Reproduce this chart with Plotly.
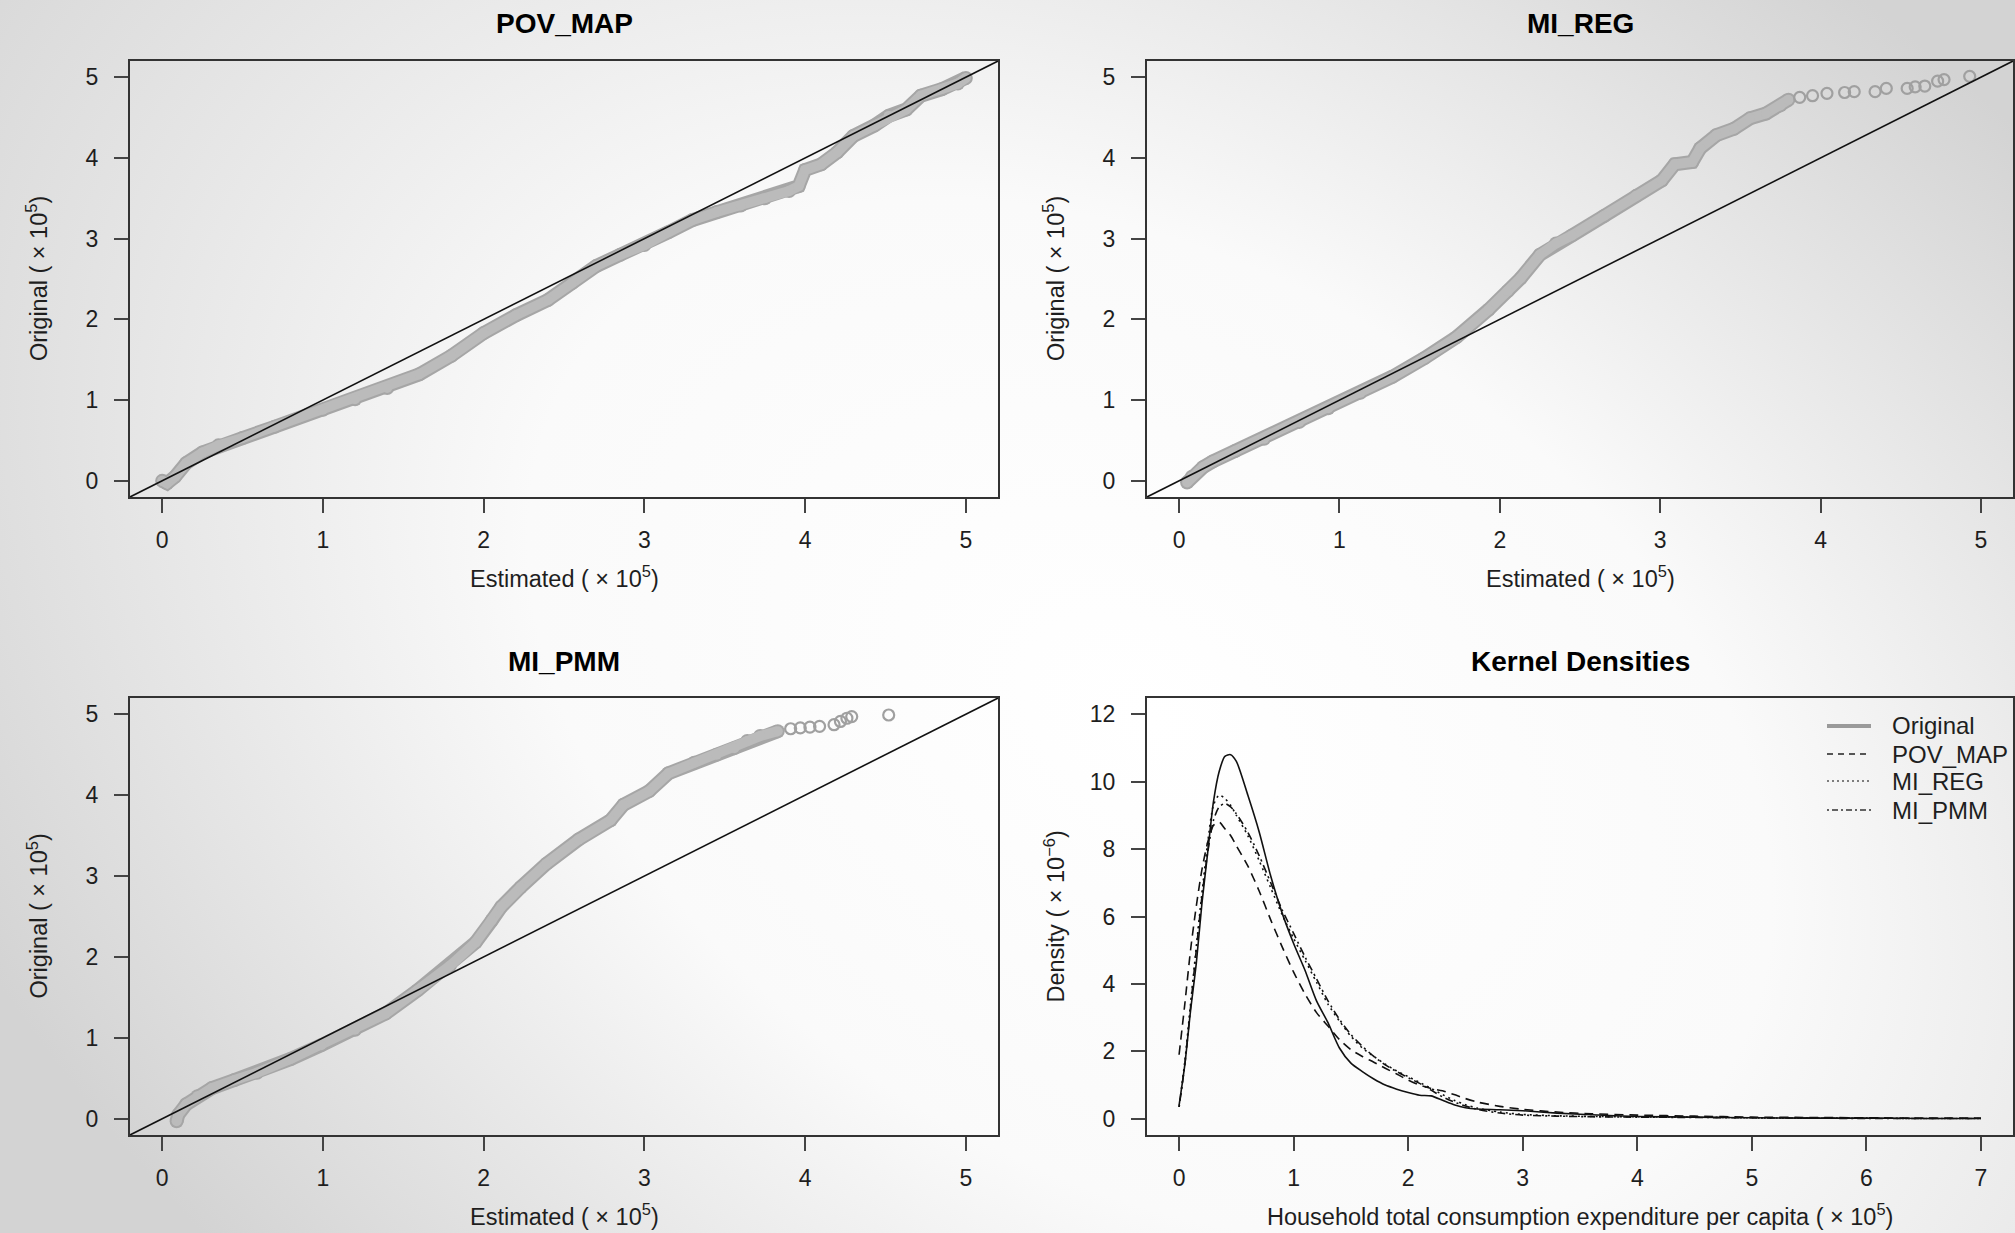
import base64
import plotly.graph_objects as go

W, H = 2015, 1233

# ---------------- data ----------------
qq_ticks = [0, 1, 2, 3, 4, 5]
qq_range = [-0.2, 5.2]

# POV_MAP QQ band (estimated vs original, x 1e5)
pov_band_x = [0.0, 0.03, 0.08, 0.15, 0.25, 0.35, 0.5, 0.7, 1.0, 1.2, 1.4, 1.6, 1.8, 2.0, 2.2, 2.4,
              2.55, 2.7, 2.85, 3.0, 3.15, 3.3, 3.45, 3.6, 3.75, 3.9, 3.96, 4.0, 4.1, 4.2, 4.3,
              4.43, 4.52, 4.63, 4.72, 4.85, 4.95, 5.0]
pov_band_y = [0.0, -0.03, 0.05, 0.22, 0.35, 0.44, 0.53, 0.67, 0.88, 1.01, 1.15, 1.32, 1.55, 1.83, 2.05, 2.24,
              2.45, 2.66, 2.8, 2.92, 3.08, 3.23, 3.33, 3.41, 3.5, 3.59, 3.65, 3.85, 3.92, 4.07, 4.27,
              4.4, 4.52, 4.6, 4.77, 4.85, 4.92, 4.99]

# MI_REG QQ band + sparse tail
reg_band_x = [0.05, 0.08, 0.15, 0.21, 0.35, 0.53, 0.75, 0.93, 1.13, 1.33, 1.53, 1.73, 1.93, 2.05, 2.13,
              2.25, 2.35, 2.45, 2.65, 2.85, 3.01, 3.09, 3.2, 3.25, 3.35, 3.46, 3.56, 3.66, 3.75, 3.8]
reg_band_y = [-0.02, 0.05, 0.17, 0.24, 0.37, 0.52, 0.73, 0.9, 1.09, 1.29, 1.52, 1.78, 2.12, 2.35, 2.51,
              2.8, 2.94, 3.04, 3.28, 3.53, 3.72, 3.92, 3.95, 4.12, 4.28, 4.36, 4.49, 4.55, 4.65, 4.72]
reg_tail_x = [3.87, 3.95, 4.04, 4.15, 4.21, 4.34, 4.41, 4.54, 4.59, 4.65, 4.73, 4.77, 4.93]
reg_tail_y = [4.75, 4.77, 4.8, 4.81, 4.82, 4.82, 4.86, 4.86, 4.88, 4.89, 4.95, 4.97, 5.01]

# MI_PMM QQ band + sparse tail
pmm_band_x = [0.09, 0.1, 0.15, 0.22, 0.31, 0.45, 0.59, 0.8, 0.99, 1.2, 1.39, 1.59, 1.79, 1.95, 2.05,
              2.11, 2.23, 2.39, 2.59, 2.79, 2.87, 3.03, 3.15, 3.31, 3.45, 3.56, 3.64, 3.72, 3.83]
pmm_band_y = [-0.03, 0.05, 0.18, 0.28, 0.38, 0.48, 0.57, 0.74, 0.91, 1.1, 1.3, 1.59, 1.89, 2.18, 2.45,
              2.62, 2.86, 3.15, 3.45, 3.69, 3.88, 4.05, 4.27, 4.4, 4.5, 4.58, 4.67, 4.73, 4.79]
pmm_tail_x = [3.91, 3.97, 4.03, 4.09, 4.18, 4.22, 4.26, 4.29, 4.52]
pmm_tail_y = [4.82, 4.83, 4.84, 4.85, 4.87, 4.91, 4.95, 4.97, 4.99]

# Kernel densities (x 1e5, density x 1e-6)
dens_x = [0.0, 0.05, 0.1, 0.15, 0.2, 0.25, 0.3, 0.35, 0.4, 0.45, 0.5, 0.6, 0.7, 0.8, 0.9, 1.0, 1.1, 1.2,
          1.3, 1.4, 1.5, 1.6, 1.7, 1.8, 1.9, 2.0, 2.1, 2.2, 2.3, 2.4, 2.5, 2.6, 2.8, 3.0, 3.3, 3.6,
          4.0, 4.5, 5.0, 5.5, 6.0, 6.5, 7.0]
dens_original = [0.4, 1.6, 3.2, 4.6, 6.4, 7.9, 9.4, 10.3, 10.75, 10.8, 10.6, 9.6, 8.5, 7.2, 6.1, 5.2, 4.4, 3.5,
                 2.85, 2.1, 1.65, 1.4, 1.18, 1.0, 0.88, 0.78, 0.7, 0.68, 0.55, 0.42, 0.33, 0.29, 0.27, 0.24,
                 0.17, 0.12, 0.07, 0.05, 0.03, 0.02, 0.02, 0.01, 0.01]
dens_pov_map = [1.9, 3.4, 5.0, 6.3, 7.4, 8.2, 8.7, 8.8, 8.6, 8.4, 8.1, 7.5, 6.75, 5.9, 5.1, 4.35, 3.7, 3.15,
                2.75, 2.35, 2.05, 1.85, 1.68, 1.5, 1.33, 1.15, 1.0, 0.9, 0.83, 0.72, 0.6, 0.5, 0.37, 0.28,
                0.2, 0.15, 0.11, 0.08, 0.05, 0.04, 0.03, 0.02, 0.02]
dens_mi_reg = [0.35, 1.7, 3.4, 5.1, 6.7, 8.2, 9.3, 9.6, 9.5, 9.3, 9.0, 8.4, 7.65, 6.85, 6.05, 5.35, 4.7, 4.05,
               3.4, 2.9, 2.45, 2.1, 1.85, 1.62, 1.42, 1.25, 1.08, 0.9, 0.72, 0.55, 0.42, 0.32, 0.2, 0.13,
               0.09, 0.07, 0.06, 0.05, 0.03, 0.02, 0.02, 0.01, 0.01]
dens_mi_pmm = [0.35, 1.6, 3.3, 5.0, 6.6, 7.9, 8.85, 9.25, 9.35, 9.25, 9.05, 8.5, 7.8, 7.0, 6.2, 5.5, 4.8, 4.15,
               3.5, 2.95, 2.5, 2.15, 1.85, 1.6, 1.4, 1.22, 1.05, 0.85, 0.65, 0.5, 0.38, 0.28, 0.17, 0.11,
               0.08, 0.06, 0.05, 0.04, 0.03, 0.02, 0.01, 0.01, 0.01]
dens_xticks = [0, 1, 2, 3, 4, 5, 6, 7]
dens_yticks = [0, 2, 4, 6, 8, 10, 12]
dens_xrange = [-0.28, 7.28]
dens_yrange = [-0.48, 12.48]

titles = ["POV_MAP", "MI_REG", "MI_PMM", "Kernel Densities"]
legend_names = ["Original", "POV_MAP", "MI_REG", "MI_PMM"]

# ---------------- styling ----------------
FONT = "Liberation Sans, Arial, sans-serif"
TXT = "#1e1e1e"
BAND_EDGE = "#a6a6a6"
BAND_FILL = "#bbbbbb"
PT = "#a0a0a0"

# panel boxes in pixels (left, right, top, bottom)
boxes = [(130, 998, 61, 497), (1147, 2013, 61, 497), (130, 998, 698, 1135), (1147, 2013, 698, 1135)]

fig = go.Figure()


def ax_names(i):
    s = "" if i == 0 else str(i + 1)
    return "x" + s, "y" + s


def add_qq(i, bx, by, tx=None, ty=None):
    xa, ya = ax_names(i)
    fig.add_trace(go.Scatter(x=bx, y=by, mode="lines+markers", xaxis=xa, yaxis=ya,
                             line=dict(color=BAND_EDGE, width=14),
                             marker=dict(color=BAND_EDGE, size=14), showlegend=False, hoverinfo="skip"))
    fig.add_trace(go.Scatter(x=bx, y=by, mode="lines+markers", xaxis=xa, yaxis=ya,
                             line=dict(color=BAND_FILL, width=10),
                             marker=dict(color=BAND_FILL, size=10), showlegend=False, hoverinfo="skip"))
    if tx is not None:
        fig.add_trace(go.Scatter(x=tx, y=ty, mode="markers", xaxis=xa, yaxis=ya,
                                 marker=dict(symbol="circle-open", color=PT, size=11,
                                             line=dict(width=2.2, color=PT)),
                                 showlegend=False, hoverinfo="skip"))
    # reference line y = x across the whole panel
    fig.add_trace(go.Scatter(x=qq_range, y=qq_range, mode="lines", xaxis=xa, yaxis=ya,
                             line=dict(color="#111", width=1.6), showlegend=False, hoverinfo="skip"))


add_qq(0, pov_band_x, pov_band_y)
add_qq(1, reg_band_x, reg_band_y, reg_tail_x, reg_tail_y)
add_qq(2, pmm_band_x, pmm_band_y, pmm_tail_x, pmm_tail_y)

dash_styles = ["solid", "9px,6px", "2px,4px", "2px,4px,8px,4px"]
dens_series = [dens_original, dens_pov_map, dens_mi_reg, dens_mi_pmm]
for name, ys, dsh in zip(legend_names, dens_series, dash_styles):
    fig.add_trace(go.Scatter(x=dens_x, y=ys, mode="lines", xaxis="x4", yaxis="y4", name=name,
                             line=dict(color="#111", width=1.6, dash=dsh, shape="spline", smoothing=0.7),
                             showlegend=False, hoverinfo="skip"))

axis_common = dict(showline=True, linecolor="#333", linewidth=2, mirror=True, ticks="outside",
                   ticklen=14, tickwidth=1.5, tickcolor="#444", showgrid=False, zeroline=False,
                   tickfont=dict(family=FONT, size=23, color=TXT), fixedrange=True)

layout_axes = {}
for i, (l, r, t, b) in enumerate(boxes):
    s = "" if i == 0 else str(i + 1)
    xd = [l / W, r / W]
    yd = [1 - b / H, 1 - t / H]
    if i < 3:
        xr, yr, xt, yt = qq_range, qq_range, qq_ticks, qq_ticks
    else:
        xr, yr, xt, yt = dens_xrange, dens_yrange, dens_xticks, dens_yticks
    layout_axes["xaxis" + s] = dict(axis_common, domain=xd, range=xr, tickvals=xt,
                                    anchor="y" + s, ticklabelstandoff=7)
    layout_axes["yaxis" + s] = dict(axis_common, domain=yd, range=yr, tickvals=yt,
                                    anchor="x" + s, ticklabelstandoff=11)

fig.update_layout(**layout_axes)

annotations = []
for i, (l, r, t, b) in enumerate(boxes):
    cx = (l + r) / 2 / W
    annotations.append(dict(text="<b>%s</b>" % titles[i], x=cx, y=1 - (t - 37) / H, xref="paper",
                            yref="paper", showarrow=False, xanchor="center", yanchor="middle",
                            font=dict(family=FONT, size=28, color="#000")))
    if i < 3:
        xl = "Estimated ( \u00d7 10<sup>5</sup>)"
        yl = "Original ( \u00d7 10<sup>5</sup>)"
    else:
        xl = "Household total consumption expenditure per capita ( \u00d7 10<sup>5</sup>)"
        yl = "Density ( \u00d7 10<sup>\u22126</sup>)"
    annotations.append(dict(text=xl, x=cx, y=1 - (b + 80) / H, xref="paper", yref="paper",
                            showarrow=False, xanchor="center", yanchor="middle",
                            font=dict(family=FONT, size=23.5, color=TXT)))
    annotations.append(dict(text=yl, x=(l - 93) / W, y=1 - (t + b) / 2 / H, xref="paper", yref="paper",
                            showarrow=False, xanchor="center", yanchor="middle", textangle=-90,
                            font=dict(family=FONT, size=23.5, color=TXT)))

# legend of the density panel (key lines + labels, top-right inside the panel)
leg_rows = [726, 754, 781, 810]
leg_line = [dict(color="#9a9a9a", width=4, dash="solid"),
            dict(color="#222", width=1.5, dash="6px,5px"),
            dict(color="#555", width=1.5, dash="2px,3px"),
            dict(color="#333", width=1.5, dash="2px,3px,6px,3px")]
shapes = []
for name, yy, st in zip(legend_names, leg_rows, leg_line):
    yp = 1 - yy / H
    shapes.append(dict(type="line", xref="paper", yref="paper", x0=1827 / W, x1=1871 / W,
                       y0=yp, y1=yp, line=st))
    annotations.append(dict(text=name, x=1890 / W, y=yp, xref="paper", yref="paper", showarrow=False,
                            xanchor="left", yanchor="middle", font=dict(family=FONT, size=24, color=TXT)))

# slide-like grey radial background
svg = (
    '<svg xmlns="http://www.w3.org/2000/svg" width="%d" height="%d" viewBox="0 0 %d %d" '
    'preserveAspectRatio="none"><defs><radialGradient id="g" gradientUnits="userSpaceOnUse" '
    'cx="0" cy="0" r="1" gradientTransform="translate(1150,720) rotate(31.5) scale(1500,1000)">'
    '<stop offset="0" stop-color="#ffffff"/><stop offset="0.45" stop-color="#fafafa"/>'
    '<stop offset="1" stop-color="#d3d3d3"/></radialGradient></defs>'
    '<rect width="%d" height="%d" fill="url(#g)"/></svg>' % (W, H, W, H, W, H)
)
src = "data:image/svg+xml;base64," + base64.b64encode(svg.encode()).decode()

fig.update_layout(
    width=W, height=H, margin=dict(l=0, r=0, t=0, b=0),
    paper_bgcolor="#e6e6e6", plot_bgcolor="rgba(0,0,0,0)",
    images=[dict(source=src, xref="paper", yref="paper", x=0, y=1, sizex=1, sizey=1,
                 xanchor="left", yanchor="top", sizing="stretch", layer="below")],
    annotations=annotations,
    shapes=shapes,
    showlegend=False,
)

fig.write_html("out.html", config={"displayModeBar": False},
               post_script="document.body.style.margin='0';document.body.style.padding='0';"
                           "document.body.style.overflow='hidden';")
